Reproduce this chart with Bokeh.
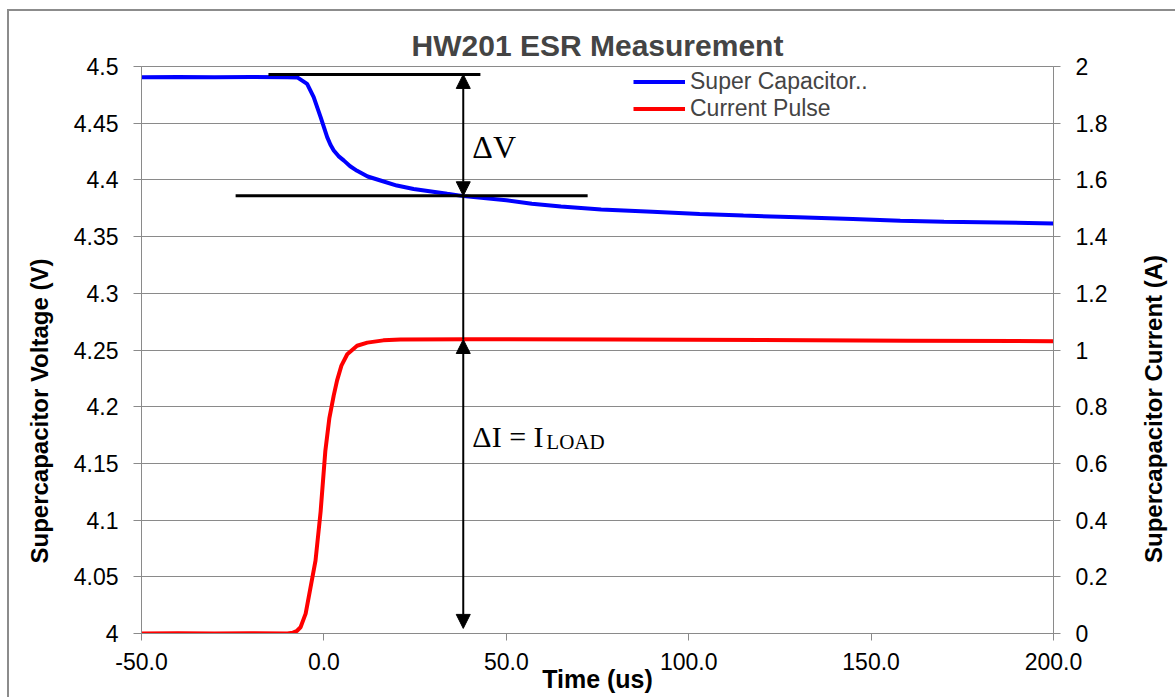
import math
from bokeh.plotting import figure
from bokeh.models import (LinearAxis, Range1d, FixedTicker, Arrow, NormalHead,
                          Label, Legend, LegendItem, Title)
from bokeh.embed import file_html
from bokeh.resources import INLINE

# ---------------- data ----------------
time_v = [-50, -40, -30, -20, -10, -7.3, -4.6, -2.8, -0.9, 0.9, 1.8, 2.7, 4.0, 5.5, 7.2,
          9.1, 12.0, 15.5, 20.0, 24.6, 33.8, 38.3, 50, 57, 65, 76, 90, 103, 115, 130,
          145, 158, 170, 185, 200]
voltage = [4.4906, 4.4908, 4.4906, 4.4908, 4.4905, 4.4904, 4.4847, 4.4730, 4.4553, 4.4377,
           4.4310, 4.4260, 4.4210, 4.4170, 4.4120, 4.4080, 4.4030, 4.3995, 4.3950, 4.3920,
           4.3877, 4.3857, 4.3820, 4.3790, 4.3765, 4.3740, 4.3720, 4.3700, 4.3685, 4.3670,
           4.3655, 4.3640, 4.3632, 4.3625, 4.3616]

time_i = [-50, -40, -30, -20, -10, -8.5, -7.5, -6.4, -5.0, -3.7, -2.3, -0.9, 0.4, 1.5,
          2.7, 3.6, 4.8, 6.4, 9.1, 11.9, 16.3, 21, 40, 80, 120, 160, 200]
current = [0.000, 0.001, 0.000, 0.001, 0.000, 0.003, 0.008, 0.022, 0.070, 0.160, 0.257,
           0.430, 0.645, 0.760, 0.840, 0.892, 0.945, 0.985, 1.015, 1.026, 1.034, 1.037,
           1.038, 1.037, 1.035, 1.033, 1.031]

x_ticks = [-50, 0, 50, 100, 150, 200]
x_tick_labels = ["-50.0", "0.0", "50.0", "100.0", "150.0", "200.0"]
v_ticks = [4.0, 4.05, 4.1, 4.15, 4.2, 4.25, 4.3, 4.35, 4.4, 4.45, 4.5]
v_tick_labels = ["4", "4.05", "4.1", "4.15", "4.2", "4.25", "4.3", "4.35", "4.4", "4.45", "4.5"]
i_ticks = [0, 0.2, 0.4, 0.6, 0.8, 1.0, 1.2, 1.4, 1.6, 1.8, 2.0]
i_tick_labels = ["0", "0.2", "0.4", "0.6", "0.8", "1", "1.2", "1.4", "1.6", "1.8", "2"]

series_names = ["Super Capacitor..", "Current Pulse"]
title_text = "HW201 ESR Measurement"
x_title = "Time (us)"
left_title = "Supercapacitor Voltage (V)"
right_title = "Supercapacitor Current (A)"

# annotation levels (voltage before/after step, current plateau)
marker_t = 38.2
dv_top = 4.493
dv_bottom = 4.386
top_line_t = [-15.2, 42.9]
bottom_line_t = [-24.2, 72.3]
di_top = 1.037
di_bottom = 0.018

v_range = (4.0, 4.5)
i_range = (0.0, 2.0)
t_range = (-50, 200)

FONT = "Liberation Sans"
SERIF = "Liberation Serif"
GRID = "#8a8a8a"

p = figure(width=1175, height=697, output_backend="svg", toolbar_location=None,
           x_range=Range1d(*t_range), y_range=Range1d(*v_range),
           min_border_left=141, min_border_right=122, min_border_top=66,
           min_border_bottom=64)
p.border_fill_color = None
p.background_fill_color = "white"
p.outline_line_color = GRID
p.styles = {"background": "linear-gradient(#8c8c8c,#8c8c8c) 7px 9px / 2px 100% no-repeat, "
                          "linear-gradient(#8c8c8c,#8c8c8c) 7px 9px / 100% 2px no-repeat, white"}

p.title.text = title_text
p.title.align = "center"
p.title.text_font = FONT
p.title.text_font_size = "30px"
p.title.text_font_style = "bold"
p.title.standoff = 9

p.extra_y_ranges = {"current": Range1d(*i_range)}

# grid
p.xgrid.visible = False
p.ygrid.ticker = FixedTicker(ticks=v_ticks)
p.ygrid.grid_line_color = GRID
p.ygrid.grid_line_width = 1

def style_axis(ax, tick_out, standoff):
    ax.axis_line_color = GRID
    ax.major_tick_line_color = GRID
    ax.major_tick_in = 0
    ax.major_tick_out = tick_out
    ax.minor_tick_line_color = None
    ax.major_label_text_font = FONT
    ax.major_label_text_font_size = "23px"
    ax.major_label_text_color = "black"
    ax.major_label_standoff = standoff
    ax.axis_label_text_font = FONT
    ax.axis_label_text_font_size = "24px"
    ax.axis_label_text_font_style = "bold"
    ax.axis_label_text_color = "black"

xa = p.xaxis[0]
xa.ticker = FixedTicker(ticks=x_ticks)
xa.major_label_overrides = {t: l for t, l in zip(x_ticks, x_tick_labels)}
xa.axis_label = x_title
style_axis(xa, 7, 12)
xa.axis_label_text_font_size = "25px"
xa.axis_label_standoff = -8

ya = p.yaxis[0]
ya.ticker = FixedTicker(ticks=v_ticks)
ya.major_label_overrides = {t: l for t, l in zip(v_ticks, v_tick_labels)}
style_axis(ya, 8, 15)

ra = LinearAxis(y_range_name="current", ticker=FixedTicker(ticks=i_ticks))
ra.major_label_overrides = {t: l for t, l in zip(i_ticks, i_tick_labels)}
style_axis(ra, 7, 15)
p.add_layout(ra, "right")

# vertical axis titles, placed below centre as in the reference
p.add_layout(Title(text=left_title, align="left", offset=70, standoff=36,
                   text_font=FONT, text_font_size="24px", text_font_style="bold",
                   text_color="black"), "left")
title_v = 4.198
p.add_layout(Label(x=t_range[1], y=title_v, x_offset=100, text=right_title, angle=math.pi / 2,
                   text_align="center", text_baseline="middle", text_font=FONT,
                   text_font_size="24px", text_font_style="bold", text_color="black"),
             "right")

# series
blue = p.line(time_v, voltage, line_color="#0000FF", line_width=4)
red = p.line(time_i, current, line_color="#FF0000", line_width=4, y_range_name="current")

# annotation lines
p.segment(x0=[top_line_t[0], bottom_line_t[0]], y0=[dv_top, dv_bottom],
          x1=[top_line_t[1], bottom_line_t[1]], y1=[dv_top, dv_bottom],
          line_color="black", line_width=3)
di_top_v = v_range[0] + (di_top - i_range[0]) / (i_range[1] - i_range[0]) * (v_range[1] - v_range[0])
p.segment(x0=[marker_t], y0=[dv_bottom], x1=[marker_t], y1=[di_top_v],
          line_color="black", line_width=2)

p.add_layout(Arrow(start=NormalHead(size=14, fill_color="black", line_color="black"),
                   end=NormalHead(size=14, fill_color="black", line_color="black"),
                   x_start=marker_t, y_start=dv_bottom, x_end=marker_t, y_end=dv_top,
                   line_color="black", line_width=2))
p.add_layout(Arrow(start=NormalHead(size=14, fill_color="black", line_color="black"),
                   end=NormalHead(size=14, fill_color="black", line_color="black"),
                   x_start=marker_t, y_start=di_bottom, x_end=marker_t, y_end=di_top,
                   y_range_name="current", line_color="black", line_width=2))

p.add_layout(Label(x=40.7, y=4.4287, text="ΔV", text_font=SERIF, text_font_size="32px",
                   text_baseline="alphabetic", text_color="black"))
p.add_layout(Label(x=40.7, y=0.695, y_range_name="current", text="ΔI = I", text_font=SERIF,
                   text_font_size="30px", text_baseline="alphabetic", text_color="black"))
p.add_layout(Label(x=40.7, y=0.674, y_range_name="current", x_offset=74, text="LOAD",
                   text_font=SERIF, text_font_size="21px", text_baseline="alphabetic",
                   text_color="black"))

legend = Legend(items=[LegendItem(label=series_names[0], renderers=[blue]),
                       LegendItem(label=series_names[1], renderers=[red])],
                location=(492, 511), glyph_width=52, glyph_height=27, label_height=27,
                spacing=0, padding=0, margin=0, border_line_color=None,
                background_fill_alpha=0, label_text_font=FONT, label_text_font_size="23px",
                label_standoff=5)
p.add_layout(legend)

open("out.html", "w").write(file_html(p, INLINE))
